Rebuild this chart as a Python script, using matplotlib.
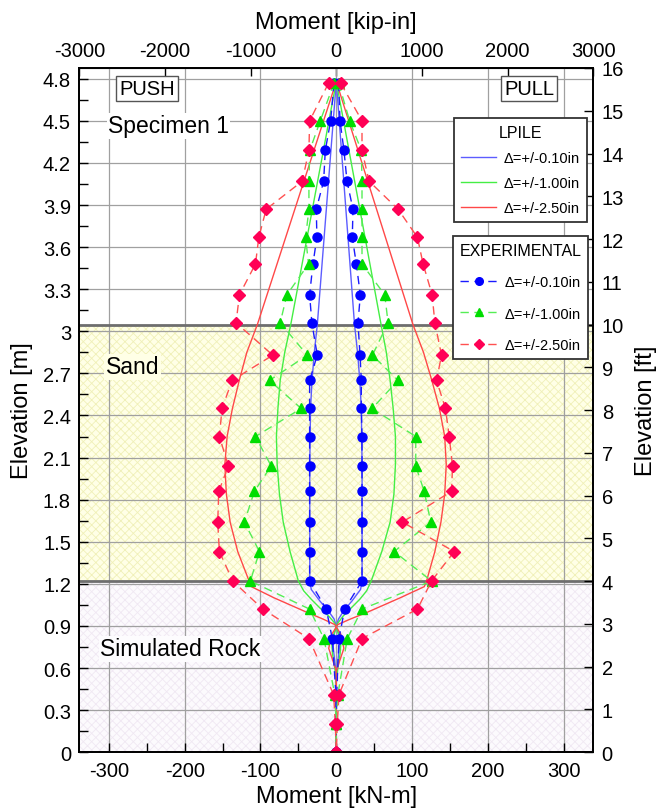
import matplotlib
matplotlib.use('Agg')
import matplotlib.pyplot as plt
import numpy as np
from matplotlib.lines import Line2D
from matplotlib.ticker import MultipleLocator, FixedLocator

plt.rcParams['font.family'] = ['Liberation Sans', 'DejaVu Sans']
plt.rcParams['hatch.linewidth'] = 0.6
plt.rcParams['axes.unicode_minus'] = False

# ---------------- data ----------------
# Experimental gauge elevations (m)
exp_elev = [4.77, 4.50, 4.29, 4.07, 3.87, 3.67, 3.48, 3.26, 3.06, 2.83, 2.65, 2.45,
            2.25, 2.04, 1.86, 1.64, 1.43, 1.22, 1.02, 0.81, 0.41, 0.20, 0.0]
exp010_push = [-3, -7.5, -14.5, -16.7, -26.4, -25.6, -30.8, -35.2, -32.2, -25.1, -35.2, -35.2,
               -35.2, -35.2, -35.2, -35.2, -35.2, -35.2, -13.2, -5.3, -0.5, 0, 0]
exp010_pull = [3, 4.9, 10.1, 14.1, 22, 21.1, 26.4, 31.7, 28.6, 31.3, 33, 33,
               33.9, 33.9, 33.9, 33.9, 33.9, 33.9, 11, 3.5, 0.5, 0, 0]
exp100_push = [-3, -21.1, -35, -36.1, -36.1, -40.5, -36.6, -65.2, -74, -38.3, -88.1, -46.3,
               -106.6, -85.9, -108, -121.2, -101.4, -113.3, -35.3, -16.3, -2, 0, 0]
exp100_pull = [3, 17.6, 33, 33.9, 33.9, 33.9, 33.9, 63.9, 68.3, 47.6, 81.5, 47.2,
               104.8, 104.8, 115.9, 124.6, 76.3, 125.6, 34, 14.5, 2, 0, 0]
exp250_push = [-10.1, -35.2, -36.1, -44.9, -92.5, -102.2, -106.6, -127.8, -132.2, -83.7, -137.4, -150.7,
               -154.2, -142.3, -155, -156.4, -154.2, -136.6, -96.9, -36.1, -3.5, -1.3, 0]
exp250_pull = [5.7, 33.9, 33.9, 43.2, 81.5, 107, 114.5, 126.4, 130, 138.8, 132.2, 144,
               148.9, 153.3, 152, 87.2, 155.5, 125.6, 107, 33.9, 3.5, 1.3, 0]

# LPILE predictions
lp_elev010 = [4.78, 3.05, 2.85, 2.65, 2.45, 2.05, 1.64, 1.22, 1.16, 1.08, 1.01, 0.95,
              0.90, 0.82, 0.74, 0.65, 0.55, 0.0]
lp010_push = [0, -25, -29, -32, -34, -35, -35, -35, -33, -22, -11, -3, 0, 4, 4, 2, 0, 0]
lp010_pull = [0, 24, 28, 31, 33, 34, 34, 34, 32, 21, 10, 3, 0, -4, -4, -2, 0, 0]

lp_elev100 = [4.78, 3.05, 2.85, 2.65, 2.45, 2.25, 2.05, 1.84, 1.64, 1.43, 1.22, 1.15,
              1.09, 1.03, 0.97, 0.92, 0.86, 0.78, 0.70, 0.60, 0.50, 0.0]
lp100_push = [0, -60, -68, -74, -77, -79, -78, -75, -70, -61, -50, -43,
              -33, -22, -10, -2, 2, 6, 5, 2, 0, 0]
lp100_pull = [0, 59, 66, 71, 75, 78, 78, 76, 71, 60, 46, 40,
              31, 20, 9, 2, -2, -6, -5, -2, 0, 0]

lp_elev250 = [4.78, 3.05, 2.85, 2.65, 2.45, 2.25, 2.05, 1.84, 1.64, 1.43, 1.22, 1.18,
              1.10, 1.00, 0.95, 0.91, 0.84, 0.74, 0.66, 0.58, 0.0]
lp250_push = [0, -104, -118, -128, -137, -144, -147, -145, -140, -130, -115, -112,
              -82, -40, -18, -2, 6, 10, 5, 0, 0]
lp250_pull = [0, 101, 115, 126, 136, 143, 145, 143, 138, 130, 119, 116,
              84, 42, 19, 2, -6, -10, -5, 0, 0]

defl_labels = ['\u0394=+/-0.10in', '\u0394=+/-1.00in', '\u0394=+/-2.50in']
layer_bounds_ft = [4, 10]      # rock top, sand top (ft)
x_ticks_kn = [-300, -200, -100, 0, 100, 200, 300]
x_ticks_kip = [-3000, -2000, -1000, 0, 1000, 2000, 3000]

FT = 0.3048
KIPIN_PER_KNM = 8.8507

# ---------------- figure ----------------
W, H = 656, 812
fig = plt.figure(figsize=(W / 100, H / 100), dpi=100)
L, R, T, B = 79.3, 593.3, 69, 753.2
ax = fig.add_axes([L / W, 1 - B / H, (R - L) / W, (B - T) / H])

xmax = 3000 / KIPIN_PER_KNM
ax.set_xlim(-xmax, xmax)
ax.set_ylim(0, 16 * FT)

rock_top = layer_bounds_ft[0] * FT
sand_top = layer_bounds_ft[1] * FT
ax.axhspan(rock_top, sand_top, facecolor='#ffffe6', edgecolor='#f0f0b8', hatch='xxxx',
           linewidth=0, zorder=0.5)
ax.axhspan(0, rock_top, facecolor='#fcfafd', edgecolor='#f0e8f3', hatch='xxxx',
           linewidth=0, zorder=0.5)
for yb in (rock_top, sand_top):
    ax.axhline(yb, color='#6e6e6e', lw=2.0, zorder=1.6)

ax.grid(True, color='#a0a0a0', lw=0.9)

# LPILE
lp_cols = ['#5c5cff', '#44ee44', '#ff4848']
for el, pu, pl, c in [(lp_elev010, lp010_push, lp010_pull, lp_cols[0]),
                      (lp_elev100, lp100_push, lp100_pull, lp_cols[1]),
                      (lp_elev250, lp250_push, lp250_pull, lp_cols[2])]:
    ax.plot(pu, el, color=c, lw=1.0, zorder=3)
    ax.plot(pl, el, color=c, lw=1.0, zorder=3)

# Experimental
exp_line = ['#1a1aff', '#55ee55', '#ff5050']
exp_mk = ['#0000ff', '#00dd00', '#ff0055']
exp_marker = ['o', '^', 'D']
exp_ms = [6.5, 6.5, 6.3]
for (pu, pl), lc, mc, mk, ms in zip([(exp010_push, exp010_pull), (exp100_push, exp100_pull),
                                      (exp250_push, exp250_pull)],
                                     exp_line, exp_mk, exp_marker, exp_ms):
    for s in (pu, pl):
        ax.plot(s, exp_elev, color=lc, lw=1.0, ls=(0, (6, 4)), marker=mk, ms=ms,
                mfc=mc, mec=mc, zorder=4)

# ticks
ax.xaxis.set_major_locator(FixedLocator(x_ticks_kn))
ax.xaxis.set_minor_locator(MultipleLocator(50))
ax.yaxis.set_minor_locator(MultipleLocator(0.15))
ax.set_yticks(np.arange(0, 4.81, 0.3))
ax.set_yticklabels([f'{v:g}' for v in np.round(np.arange(0, 4.81, 0.3), 1)])
ax.tick_params(which='both', direction='in', length=6.5, width=1.0, labelsize=14.5,
               top=False, right=False)
ax.tick_params(axis='x', pad=6)
ax.tick_params(axis='y', pad=6)
for sp in ax.spines.values():
    sp.set_linewidth(1.3)

ax.set_xlabel('Moment [kN-m]', fontsize=17, labelpad=4)
ax.set_ylabel('Elevation [m]', fontsize=17, labelpad=7)

secx = ax.secondary_xaxis('top', functions=(lambda x: x * KIPIN_PER_KNM,
                                             lambda x: x / KIPIN_PER_KNM))
secx.set_xticks(x_ticks_kip)
secx.tick_params(direction='in', length=6, width=1.0, labelsize=14.5, pad=6)
secx.set_xlabel('Moment [kip-in]', fontsize=17, labelpad=9)

ax2 = ax.twinx()
ax2.set_ylim(0, 16)
ax2.set_yticks(np.arange(0, 17, 1))
ax2.tick_params(direction='in', length=6.5, width=1.0, labelsize=14.5, pad=6)
ax2.set_ylabel('Elevation [ft]', fontsize=17, labelpad=8)
for sp in ax2.spines.values():
    sp.set_linewidth(1.3)

# annotations
ax.text(-301, 4.465, 'Specimen 1', fontsize=16.5, va='center', ha='left', zorder=5,
        bbox=dict(facecolor='white', edgecolor='none', pad=1))
ax.text(-304, 2.748, 'Sand', fontsize=16.5, va='center', ha='left', zorder=5,
        bbox=dict(facecolor='#ffffe6', edgecolor='none', pad=1))
ax.text(-311, 0.736, 'Simulated Rock', fontsize=16.5, va='center', ha='left', zorder=5,
        bbox=dict(facecolor='#fdfcfe', edgecolor='none', pad=1))
ax.text(-250, 4.73, 'PUSH', fontsize=14.5, va='center', ha='center', zorder=5,
        bbox=dict(boxstyle='square,pad=0.15', facecolor='white', edgecolor='#555555', lw=1))
ax.text(254, 4.73, 'PULL', fontsize=14.5, va='center', ha='center', zorder=5,
        bbox=dict(boxstyle='square,pad=0.15', facecolor='white', edgecolor='#555555', lw=1))

# legends
lp_handles = [Line2D([], [], color=c, lw=1.0) for c in lp_cols]
leg1 = ax2.legend(lp_handles, defl_labels, title='LPILE', loc='upper left',
                  bbox_to_anchor=(454 / W, 1 - 119 / H), bbox_transform=fig.transFigure,
                  borderaxespad=0, fontsize=10.5, title_fontsize=11.5, fancybox=False,
                  framealpha=1, edgecolor='#333333', handlelength=2.4, handletextpad=0.5,
                  labelspacing=0.75, borderpad=0.5)
leg1.get_frame().set_linewidth(1.3)
ax2.add_artist(leg1)
ex_handles = [Line2D([], [], color=lc, lw=1.0, ls=(0, (6, 4)), marker=mk, ms=ms - 1,
                     mfc=mc, mec=mc)
              for lc, mc, mk, ms in zip(exp_line, exp_mk, exp_marker, exp_ms)]
leg2 = ax2.legend(ex_handles, defl_labels, title='EXPERIMENTAL', loc='upper left',
                  bbox_to_anchor=(453 / W, 1 - 237 / H), bbox_transform=fig.transFigure,
                  borderaxespad=0, fontsize=10.5, title_fontsize=11.5, fancybox=False,
                  framealpha=1, edgecolor='#333333', handlelength=2.6, handletextpad=0.5,
                  labelspacing=1.2, borderpad=0.45)
leg2.get_frame().set_linewidth(1.3)

fig.savefig('out.png', dpi=100)
